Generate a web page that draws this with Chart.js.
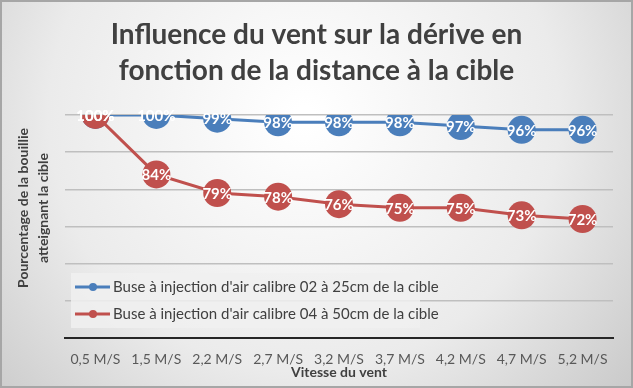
<!DOCTYPE html>
<html>
<head>
<meta charset="utf-8">
<script src="https://cdn.jsdelivr.net/npm/chart.js@4"></script>
<style>
  html, body { margin: 0; padding: 0; }
  #wrap { width: 633px; height: 388px; }
</style>
</head>
<body>
<div id="wrap"><canvas id="chart"></canvas></div>
<script>
// data
const vitesses = ["0,5 M/S", "1,5 M/S", "2,2 M/S", "2,7 M/S", "3,2 M/S", "3,7 M/S", "4,2 M/S", "4,7 M/S", "5,2 M/S"];
const buse02 = [100, 100, 99, 98, 98, 98, 97, 96, 96];
const buse04 = [100, 84, 79, 78, 76, 75, 75, 73, 72];
const serieNames = [
  "Buse à injection d'air calibre 02 à 25cm de la cible",
  "Buse à injection d'air calibre 04 à 50cm de la cible",
];
const yTitle = ["Pourcentage de la bouillie", "atteignant la cible"];

const BLUE = "#4a7ebb";
const RED = "#c0504d";
const FONT = "Lato, 'Open Sans', sans-serif";

// gradient background + frame
const backgroundPlugin = {
  id: "bg",
  beforeDraw(chart) {
    const { ctx, width, height } = chart;
    ctx.save();
    const g = ctx.createRadialGradient(width * 0.48, height * 0.3, 10, width * 0.48, height * 0.3, width * 0.72);
    g.addColorStop(0, "#ffffff");
    g.addColorStop(0.55, "#ebebeb");
    g.addColorStop(1, "#c4c4c4");
    ctx.fillStyle = g;
    ctx.fillRect(0, 0, width, height);
    ctx.strokeStyle = "#a6a6a6";
    ctx.lineWidth = 2;
    ctx.strokeRect(1, 1, width - 2, height - 2);
    ctx.restore();
  },
};

// y axis title, two rotated lines
const yTitlePlugin = {
  id: "yTitle",
  afterDraw(chart) {
    const { ctx } = chart;
    ctx.save();
    ctx.translate(33, 208);
    ctx.rotate(-Math.PI / 2);
    ctx.font = "bold 14px " + FONT;
    ctx.fillStyle = "#404040";
    ctx.textAlign = "center";
    ctx.textBaseline = "middle";
    ctx.fillText(yTitle[0], 0, -10);
    ctx.fillText(yTitle[1], 0, 10);
    ctx.restore();
  },
};

// percent labels inside markers
const labelsPlugin = {
  id: "pointLabels",
  afterDatasetsDraw(chart) {
    const { ctx } = chart;
    ctx.save();
    ctx.font = "bold 15px " + FONT;
    ctx.fillStyle = "#ffffff";
    ctx.textAlign = "center";
    ctx.textBaseline = "middle";
    // red series last so its labels sit on top
    [0, 1].forEach((i) => {
      const ds = chart.data.datasets[i];
      chart.getDatasetMeta(i).data.forEach((pt, j) => {
        ctx.fillText(ds.data[j] + "%", pt.x, pt.y + 1);
      });
    });
    ctx.restore();
  },
};

// legend drawn inside the plot area, bottom left
const legendPlugin = {
  id: "insideLegend",
  afterDatasetsDraw(chart) {
    const { ctx } = chart;
    const x = 71;
    const y = 273;
    ctx.save();
    ctx.fillStyle = "rgba(240,240,240,0.85)";
    ctx.fillRect(x, y, 349, 55);
    ctx.font = "15px " + FONT;
    ctx.textBaseline = "middle";
    chart.data.datasets.forEach((ds, i) => {
      const cy = y + 14 + i * 27;
      ctx.strokeStyle = ds.borderColor;
      ctx.lineWidth = 3;
      ctx.beginPath();
      ctx.moveTo(x + 4, cy);
      ctx.lineTo(x + 39, cy);
      ctx.stroke();
      ctx.fillStyle = ds.borderColor;
      ctx.beginPath();
      ctx.arc(x + 22, cy, 4, 0, Math.PI * 2);
      ctx.fill();
      ctx.fillStyle = "#404040";
      ctx.fillText(ds.label, x + 42, cy);
    });
    ctx.restore();
  },
};

function dataset(label, data, color, order) {
  return {
    label: label,
    data: data,
    order: order,
    borderColor: color,
    backgroundColor: color,
    borderWidth: 3,
    pointRadius: 14,
    pointHoverRadius: 14,
    pointBorderWidth: 0,
    tension: 0,
  };
}

new Chart(document.getElementById("chart"), {
  type: "line",
  data: {
    labels: vitesses,
    datasets: [dataset(serieNames[0], buse02, BLUE, 1), dataset(serieNames[1], buse04, RED, 0)],
  },
  options: {
    responsive: true,
    maintainAspectRatio: false,
    animation: false,
    layout: { padding: { left: 20, right: 20, top: 0, bottom: 0 } },
    plugins: {
      legend: { display: false },
      tooltip: { enabled: false },
      title: {
        display: true,
        text: ["Influence du vent sur la dérive en", "fonction de la distance à la cible"],
        color: "#404040",
        font: { family: FONT, size: 28, weight: "bold", lineHeight: 1.32 },
        padding: { top: 16, bottom: 25 },
      },
    },
    scales: {
      x: {
        offset: true,
        grid: { display: false, drawTicks: false },
        border: { color: "#262626", width: 2 },
        ticks: { color: "#595959", font: { family: FONT, size: 14 }, padding: 13, maxRotation: 0, autoSkip: false },
        title: {
          display: true,
          text: "Vitesse du vent",
          color: "#404040",
          font: { family: FONT, size: 14, weight: "bold" },
          padding: { top: 0, bottom: 7 },
        },
        afterFit(scale) { scale.height = 50; },
      },
      y: {
        min: 40,
        max: 100,
        ticks: { display: false, stepSize: 10 },
        grid: { color: "#bfbfbf", lineWidth: 1.5, drawTicks: false },
        border: { display: false },
        afterFit(scale) { scale.width = 45; },
      },
    },
  },
  plugins: [backgroundPlugin, labelsPlugin, legendPlugin, yTitlePlugin],
});
</script>
</body>
</html>
